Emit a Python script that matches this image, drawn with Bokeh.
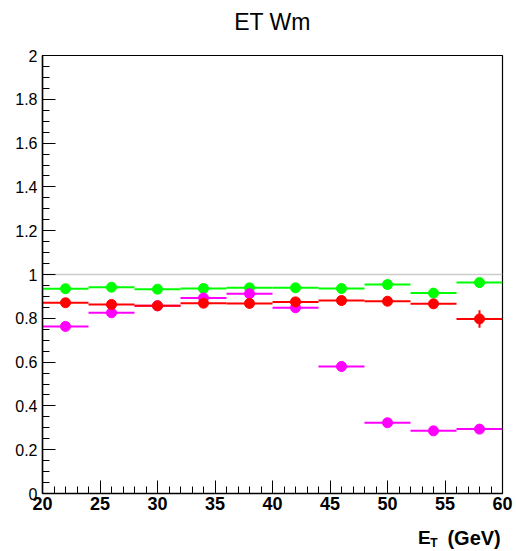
from bokeh.plotting import figure
from bokeh.layouts import column
from bokeh.models import FixedTicker, CustomJSTickFormatter, Label, ColumnDataSource, Range1d
from bokeh.embed import file_html
from bokeh.resources import INLINE

# ---- data ----
bin_edges = [20, 24, 28, 32, 36, 40, 44, 48, 52, 56, 60]
green = [0.935, 0.942, 0.933, 0.936, 0.939, 0.939, 0.936, 0.954, 0.915, 0.963]
green_err = [0.004, 0.004, 0.004, 0.004, 0.004, 0.005, 0.005, 0.006, 0.008, 0.010]
red = [0.871, 0.863, 0.857, 0.869, 0.868, 0.875, 0.881, 0.878, 0.866, 0.797]
red_err = [0.005, 0.005, 0.005, 0.005, 0.006, 0.006, 0.007, 0.009, 0.016, 0.040]
magenta = [0.763, 0.825, 0.857, 0.893, 0.912, 0.848, 0.580, 0.323, 0.286, 0.294]
magenta_err = [0.004, 0.004, 0.004, 0.004, 0.005, 0.005, 0.006, 0.006, 0.006, 0.007]
x_ticks = [20, 25, 30, 35, 40, 45, 50, 55, 60]
y_ticks = [0, 0.2, 0.4, 0.6, 0.8, 1.0, 1.2, 1.4, 1.6, 1.8, 2.0]
title_text = "ET Wm"
xlabel_main = "E"
xlabel_sub = "T"
xlabel_unit = "(GeV)"
ref_level = 1.0

lo = bin_edges[:-1]
hi = bin_edges[1:]
centers = [(a + b) / 2 for a, b in zip(lo, hi)]

FONT = "Liberation Sans"
W = 516
TOP_H = 45
BOT_H = 28

xr = Range1d(20, 60)

def strip(h):
    f = figure(width=W, height=h, output_backend="svg", toolbar_location=None,
               x_range=xr, y_range=Range1d(h, 0),
               min_border_left=42, min_border_right=14,
               min_border_top=0, min_border_bottom=0)
    f.axis.visible = False
    f.grid.visible = False
    f.outline_line_color = None
    f.title = None
    return f

# ---- top strip: title ----
top = strip(TOP_H)
top.add_layout(Label(x=40, y=21, text=title_text, text_align="center",
                     text_baseline="middle", text_font=FONT, text_font_size="23px",
                     text_color="black"))

# ---- main plot ----
p = figure(width=W, height=551 - TOP_H - BOT_H, output_backend="svg", toolbar_location=None,
           x_range=xr, y_range=Range1d(0, 2),
           min_border_left=42, min_border_right=14, min_border_top=10, min_border_bottom=30)
p.title = None
p.xgrid.visible = False
p.ygrid.visible = False
p.outline_line_color = "black"
p.outline_line_width = 1.2
p.background_fill_color = "white"
p.border_fill_color = "white"

p.line([bin_edges[0], bin_edges[-1]], [ref_level, ref_level], line_color="#cccccc", line_width=1.5)

def draw(vals, errs, color):
    src = ColumnDataSource(dict(x=centers, y=vals, lo=lo, hi=hi,
                                ylo=[v - e for v, e in zip(vals, errs)],
                                yhi=[v + e for v, e in zip(vals, errs)]))
    p.segment(x0="lo", x1="hi", y0="y", y1="y", source=src, line_color=color, line_width=2)
    p.segment(x0="x", x1="x", y0="ylo", y1="yhi", source=src, line_color=color, line_width=2)
    p.scatter(x="x", y="y", source=src, size=10, fill_color=color, line_color=color)

draw(green, green_err, "#00ff00")
draw(magenta, magenta_err, "#ff00ff")
draw(red, red_err, "#ff0000")

xa = p.xaxis[0]
xa.ticker = FixedTicker(ticks=x_ticks, minor_ticks=list(range(20, 61)))
xa.major_tick_in = 13
xa.major_tick_out = 0
xa.minor_tick_in = 7
xa.minor_tick_out = 0
xa.axis_line_width = 1.5
xa.major_label_text_font = FONT
xa.major_label_text_font_style = "bold"
xa.major_label_text_font_size = "18px"
xa.major_label_text_color = "black"
xa.major_label_standoff = 3

ya = p.yaxis[0]
ya.ticker = FixedTicker(ticks=y_ticks, minor_ticks=[i * 0.05 for i in range(41)])
ya.formatter = CustomJSTickFormatter(code="return String(Math.round(tick*10)/10)")
ya.major_tick_in = 13
ya.major_tick_out = 0
ya.minor_tick_in = 7
ya.minor_tick_out = 0
ya.axis_line_width = 1.5
ya.major_label_text_font = FONT
ya.major_label_text_font_size = "16px"
ya.major_label_text_color = "black"
ya.major_label_standoff = 5

# ---- bottom strip: x axis label E_T (GeV) ----
bot = strip(BOT_H)
bot.add_layout(Label(x=52.65, y=14, text=xlabel_main, text_align="left",
                     text_baseline="alphabetic", text_font=FONT, text_font_style="bold",
                     text_font_size="19px", text_color="black"))
bot.add_layout(Label(x=53.72, y=19, text=xlabel_sub, text_align="left",
                     text_baseline="alphabetic", text_font=FONT, text_font_style="bold",
                     text_font_size="12px", text_color="black"))
bot.add_layout(Label(x=59.85, y=14, text=xlabel_unit, text_align="right",
                     text_baseline="alphabetic", text_font=FONT, text_font_style="bold",
                     text_font_size="20px", text_color="black"))

layout = column(top, p, bot, spacing=0)
open("out.html", "w").write(file_html(layout, INLINE))
